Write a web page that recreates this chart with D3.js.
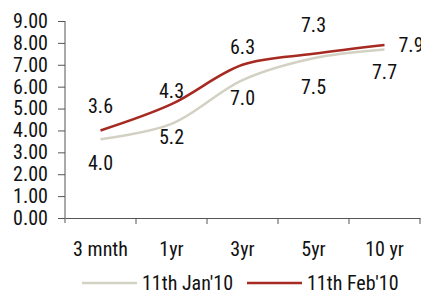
<!DOCTYPE html>
<html>
<head>
<meta charset="utf-8">
<script src="https://cdn.jsdelivr.net/npm/d3@7"></script>
<style>
  body { margin: 0; background: #fff; }
  svg text { font-family: "Liberation Sans Narrow", "Arial Narrow", "Roboto Condensed", sans-serif; font-stretch: condensed; fill: #111; }
</style>
</head>
<body>
<svg id="chart" width="421" height="298"></svg>
<script>
const categories = ["3 mnth", "1yr", "3yr", "5yr", "10 yr"];
const jan10 = [3.6, 4.3, 6.3, 7.3, 7.7];
const feb10 = [4.0, 5.2, 7.0, 7.5, 7.9];
const yTicks = [0, 1, 2, 3, 4, 5, 6, 7, 8, 9];
const seriesNames = ["11th Jan'10", "11th Feb'10"];

const svg = d3.select("#chart");
const fontSize = 20;

const x = d3.scaleBand().domain(categories).range([65, 420]);
const y = d3.scaleLinear().domain([0, 9]).range([218, 21]);

// y axis
const yAxis = svg.append("g")
    .attr("transform", "translate(65,0)")
    .call(d3.axisLeft(y).tickValues(yTicks).tickFormat(d3.format(".2f")).tickSize(7).tickPadding(10));
yAxis.select(".domain").attr("stroke", "#555").attr("d", "M0,21V223");
yAxis.selectAll(".tick line").attr("stroke", "#555");
yAxis.selectAll("text").style("font-size", fontSize + "px").attr("fill", "#111");

// x axis
const xAxis = svg.append("g")
    .attr("transform", "translate(0,218)")
    .call(d3.axisBottom(x).tickSize(0).tickPadding(24));
xAxis.select(".domain").attr("stroke", "#555");
xAxis.selectAll("text").style("font-size", fontSize + "px").attr("fill", "#111");
xAxis.selectAll(".edge")
    .data(categories)
    .enter().append("line")
    .attr("x1", d => x(d) + x.bandwidth())
    .attr("x2", d => x(d) + x.bandwidth())
    .attr("y1", 0).attr("y2", 6)
    .attr("stroke", "#555");

const line = d3.line()
    .x((d, i) => x(categories[i]) + x.bandwidth() / 2)
    .y(d => y(d))
    .curve(d3.curveCatmullRom.alpha(0.5));

svg.append("path").datum(jan10)
    .attr("d", line).attr("fill", "none")
    .attr("stroke", "#d3d1c3").attr("stroke-width", 2.5);
svg.append("path").datum(feb10)
    .attr("d", line).attr("fill", "none")
    .attr("stroke", "#a62a22").attr("stroke-width", 2.5);

// data labels
const last = categories.length - 1;
svg.selectAll("text.jan")
    .data(jan10)
    .enter().append("text")
    .attr("class", "jan")
    .attr("x", (d, i) => x(categories[i]) + x.bandwidth() / 2)
    .attr("y", (d, i) => i === last ? y(d) + 23 : y(d) - 33)
    .attr("dy", "0.35em")
    .attr("text-anchor", "middle")
    .style("font-size", fontSize + "px")
    .text(d => d.toFixed(1));

svg.selectAll("text.feb")
    .data(feb10)
    .enter().append("text")
    .attr("class", "feb")
    .attr("x", (d, i) => i === last ? x(categories[i]) + x.bandwidth() / 2 + 14 : x(categories[i]) + x.bandwidth() / 2)
    .attr("y", (d, i) => i === last ? y(d) : y(d) + 33)
    .attr("dy", "0.35em")
    .attr("text-anchor", (d, i) => i === last ? "start" : "middle")
    .style("font-size", fontSize + "px")
    .text(d => d.toFixed(1));

// legend
const legendColors = ["#d3d1c3", "#a62a22"];
const legendX = [82, 247];
const legend = svg.selectAll("g.legend")
    .data(seriesNames)
    .enter().append("g")
    .attr("class", "legend")
    .attr("transform", (d, i) => `translate(${legendX[i]},283)`);
legend.append("line")
    .attr("x1", 0).attr("x2", 55)
    .attr("stroke", (d, i) => legendColors[i]).attr("stroke-width", 2.5);
legend.append("text")
    .attr("x", 60).attr("dy", "0.35em")
    .style("font-size", fontSize + "px")
    .text(d => d);
</script>
</body>
</html>
